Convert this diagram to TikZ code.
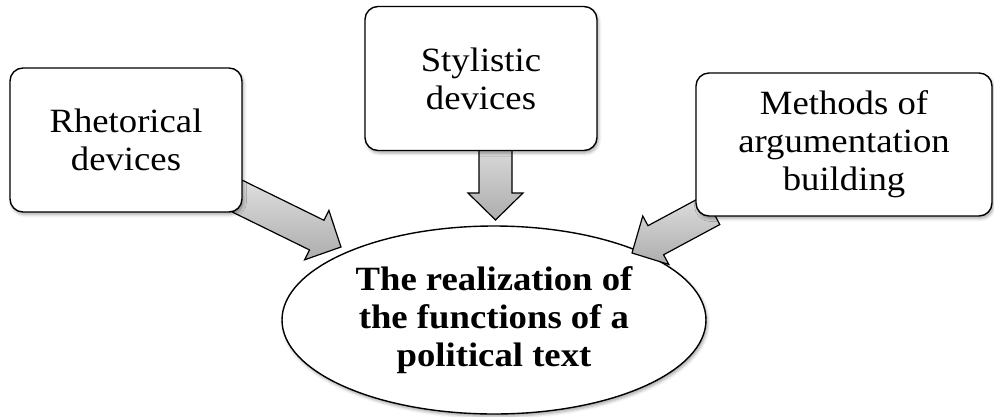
\documentclass[tikz,border=0pt]{standalone}
\usepackage{fontspec}
\setmainfont{Liberation Serif}[FakeStretch=1.08]
\usetikzlibrary{shapes.geometric,shadows.blur,calc}
\tikzset{
  box/.style={draw=black, line width=1.4pt, rounded corners=13pt, fill=white,
    minimum width=232pt, minimum height=144pt, align=center, inner sep=0pt,
    font=\fontsize{34}{38}\selectfont,
    blur shadow={shadow xshift=1.5pt, shadow yshift=-2.5pt, shadow blur radius=3pt, shadow opacity=35}},
  oval/.style={ellipse, draw=black, line width=1.4pt, fill=white,
    minimum width=424pt, minimum height=188pt, inner sep=0pt, align=center,
    font=\fontsize{34}{38}\selectfont\bfseries,
    blur shadow={shadow xshift=1.5pt, shadow yshift=-2.5pt, shadow blur radius=3pt, shadow opacity=35}},
  blockarr/.style={draw=black, line width=1.2pt, line join=miter,
    top color=gray!25, bottom color=gray!65}
}
\newcommand\blockarrow[2]{%
  \path[blockarr] let \p1=(#1), \p2=(#2),
      \n1={atan2(\y2-\y1,\x2-\x1)}, \n2={veclen(\x2-\x1,\y2-\y1)} in
    [shift={(\p1)}, rotate=\n1]
    (0pt,-16.5pt) -- (\n2-27pt,-16.5pt) -- (\n2-27pt,-27.5pt) -- (\n2,0pt)
    -- (\n2-27pt,27.5pt) -- (\n2-27pt,16.5pt) -- (0pt,16.5pt) -- cycle;
}
\begin{document}
\begin{tikzpicture}[x=1pt,y=-1pt]
\useasboundingbox (0,0) rectangle (994,416);
\node[oval] (real) at (494,320) {The realization of\\the functions of a\\political text};
\coordinate (a1s) at (235,195);
\coordinate (a1e) at (341,247);
\coordinate (a2s) at (495.5,140);
\coordinate (a2e) at (495.5,220);
\coordinate (a3s) at (712,210);
\coordinate (a3e) at (632,253);
\blockarrow{a1s}{a1e}
\blockarrow{a2s}{a2e}
\blockarrow{a3s}{a3e}
\node[box] (rhet) at (126,140) {Rhetorical\\devices};
\node[box] (styl) at (481,78.5) {Stylistic\\devices};
\node[box, minimum width=296pt, minimum height=143pt] (meth) at (844,144.5) {Methods of\\argumentation\\building};
\end{tikzpicture}
\end{document}
